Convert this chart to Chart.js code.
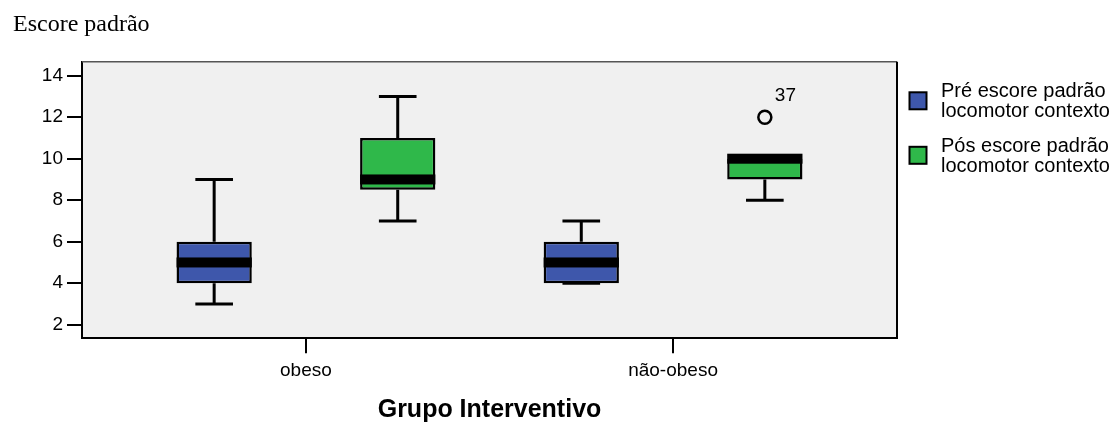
<!DOCTYPE html>
<html>
<head>
<meta charset="utf-8">
<title>Escore padrão</title>
<script src="https://cdn.jsdelivr.net/npm/chart.js@4.4.1/dist/chart.umd.min.js"></script>
<style>
  html, body { margin: 0; padding: 0; background: #fff; }
  #wrap { width: 1114px; height: 425px; position: relative; }
</style>
</head>
<body>
<div id="wrap"><canvas id="boxChart"></canvas></div>
<script>
const groups = ["obeso", "não-obeso"];
const seriesLabels = [
  ["Pré escore padrão", "locomotor contexto"],
  ["Pós escore padrão", "locomotor contexto"]
];
// [min, q1, median, q3, max] for each group
const preStats = [[3, 4, 5, 6, 9], [4, 4, 5, 6, 7]];
const postStats = [[7, 8.5, 9, 11, 13], [8, 9, 10, 10, 10]];
const preOutliers = [[], []];
const postOutliers = [[], [12]];
const preOutlierIds = [[], []];
const postOutlierIds = [[], ["37"]];
const yTicks = [2, 4, 6, 8, 10, 12, 14];
const seriesColors = ["#3e57ab", "#2fb84a"];

const FONT = "'Liberation Sans', Arial, sans-serif";

const allStats = [preStats, postStats];
const allOutliers = [preOutliers, postOutliers];
const allIds = [preOutlierIds, postOutlierIds];

const datasets = allStats.map((stats, s) => ({
  label: seriesLabels[s],
  data: stats.map((st, i) => ({ x: i + 1, y: [st[1], st[3]] })),
  stats: stats,
  outliers: allOutliers[s],
  outlierIds: allIds[s],
  backgroundColor: seriesColors[s],
  borderColor: "#000",
  borderWidth: 2.5,
  borderSkipped: false,
  barPercentage: 0.41,
  categoryPercentage: 1
}));

// grey plot background + top/right frame
const plotFrame = {
  id: "plotFrame",
  beforeDraw(chart) {
    const { ctx, chartArea: a } = chart;
    ctx.save();
    ctx.fillStyle = "#f0f0f0";
    ctx.fillRect(a.left, a.top, a.right - a.left, a.bottom - a.top);
    ctx.restore();
  },
  afterDraw(chart) {
    const { ctx, chartArea: a } = chart;
    ctx.save();
    ctx.strokeStyle = "#555";
    ctx.lineWidth = 1.5;
    ctx.beginPath();
    ctx.moveTo(a.left, a.top);
    ctx.lineTo(a.right, a.top);
    ctx.stroke();
    ctx.strokeStyle = "#000";
    ctx.lineWidth = 2;
    ctx.beginPath();
    ctx.moveTo(a.right, a.top);
    ctx.lineTo(a.right, a.bottom);
    ctx.stroke();
    ctx.restore();
  }
};

// whiskers, median band and outliers on top of the floating bars
const boxExtras = {
  id: "boxExtras",
  afterDatasetsDraw(chart) {
    const { ctx } = chart;
    const yS = chart.scales.y;
    ctx.save();
    chart.data.datasets.forEach((ds, di) => {
      const meta = chart.getDatasetMeta(di);
      meta.data.forEach((bar, i) => {
        const st = ds.stats[i];
        const x = bar.x;
        const w = bar.width;
        const yMin = yS.getPixelForValue(st[0]);
        const yQ1 = yS.getPixelForValue(st[1]);
        const yMed = yS.getPixelForValue(st[2]);
        const yQ3 = yS.getPixelForValue(st[3]);
        const yMax = yS.getPixelForValue(st[4]);
        ctx.strokeStyle = "#000";
        ctx.lineWidth = 3;
        ctx.beginPath();
        ctx.moveTo(x, yQ3); ctx.lineTo(x, yMax);
        ctx.moveTo(x, yQ1); ctx.lineTo(x, yMin);
        ctx.moveTo(x - w / 4, yMax); ctx.lineTo(x + w / 4, yMax);
        ctx.moveTo(x - w / 4, yMin); ctx.lineTo(x + w / 4, yMin);
        ctx.stroke();
        // thick median
        ctx.fillStyle = "#000";
        ctx.fillRect(x - w / 2, yMed - 5, w, 10);
        // outliers
        (ds.outliers[i] || []).forEach((v, k) => {
          const py = yS.getPixelForValue(v);
          ctx.lineWidth = 2.5;
          ctx.beginPath();
          ctx.arc(x, py, 6.5, 0, Math.PI * 2);
          ctx.stroke();
          ctx.font = "19px " + FONT;
          ctx.textAlign = "left";
          ctx.textBaseline = "middle";
          ctx.fillText(ds.outlierIds[i][k], x + 10, py - 21);
        });
      });
    });
    ctx.restore();
  }
};

// legend on the right, two-line labels
const sideLegend = {
  id: "sideLegend",
  afterDraw(chart) {
    const { ctx, chartArea: a } = chart;
    ctx.save();
    chart.data.datasets.forEach((ds, i) => {
      const cy = a.top + 39 + i * 54.5;
      const sx = a.right + 12.5;
      ctx.fillStyle = ds.backgroundColor;
      ctx.fillRect(sx, cy - 8.5, 17, 17);
      ctx.strokeStyle = "#000";
      ctx.lineWidth = 2;
      ctx.strokeRect(sx, cy - 8.5, 17, 17);
      ctx.fillStyle = "#000";
      ctx.font = "20px " + FONT;
      ctx.textAlign = "left";
      ctx.textBaseline = "middle";
      ds.label.forEach((line, j) => {
        ctx.fillText(line, sx + 31.5, cy - 9 + j * 20);
      });
    });
    ctx.restore();
  }
};

const ctx = document.getElementById("boxChart");
new Chart(ctx, {
  type: "bar",
  data: { datasets: datasets },
  plugins: [plotFrame, boxExtras, sideLegend],
  options: {
    responsive: true,
    maintainAspectRatio: false,
    animation: false,
    layout: { padding: { left: 13, right: 217, top: 10, bottom: 0 } },
    plugins: {
      legend: { display: false },
      tooltip: { enabled: false },
      title: {
        display: true,
        text: "Escore padrão",
        align: "start",
        color: "#000",
        font: { family: "'Liberation Serif', 'Times New Roman', serif", size: 24, weight: "normal" },
        padding: { top: 0, bottom: 23 }
      }
    },
    scales: {
      x: {
        type: "linear",
        offset: false,
        min: 0.39,
        max: 2.61,
        afterBuildTicks: (scale) => {
          scale.ticks = groups.map((g, i) => ({ value: i + 1 }));
        },
        ticks: {
          color: "#000",
          font: { family: FONT, size: 19 },
          padding: 6,
          callback: (v) => groups[v - 1]
        },
        grid: { offset: false, drawOnChartArea: false, drawTicks: true, tickLength: 15, color: "#000", lineWidth: 2 },
        border: { display: true, color: "#000", width: 2 },
        title: {
          display: true,
          text: "Grupo Interventivo",
          color: "#000",
          font: { family: FONT, size: 25, weight: "bold" },
          padding: { top: 7, bottom: 0 }
        }
      },
      y: {
        min: 1.35,
        max: 14.67,
        afterBuildTicks: (scale) => {
          scale.ticks = yTicks.map((v) => ({ value: v }));
        },
        afterFit: (scale) => { scale.width = 69; },
        ticks: {
          color: "#000",
          font: { family: FONT, size: 19 },
          padding: 4
        },
        grid: { drawOnChartArea: false, drawTicks: true, tickLength: 15, color: "#000", lineWidth: 2 },
        border: { display: true, color: "#000", width: 2 }
      }
    }
  }
});
</script>
</body>
</html>
